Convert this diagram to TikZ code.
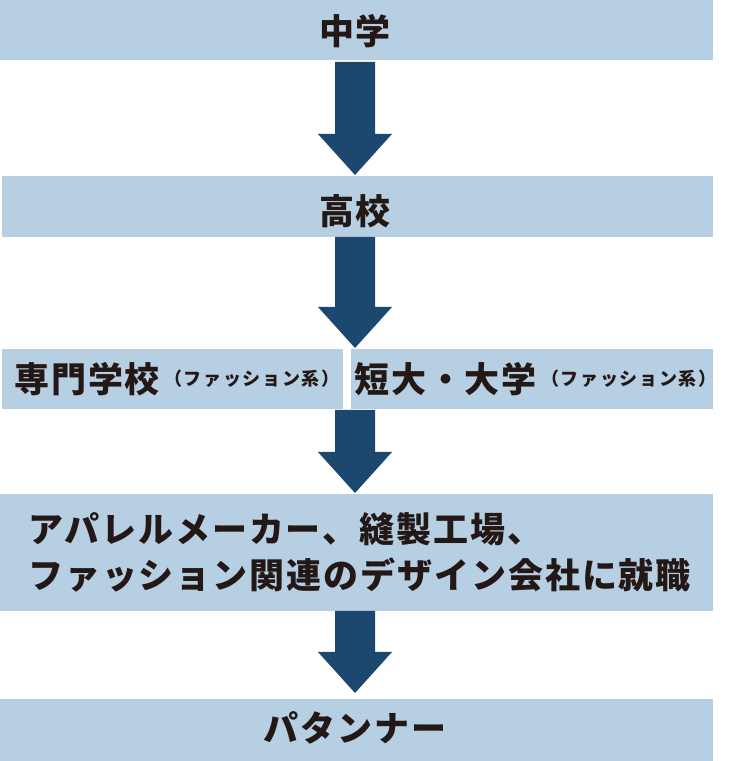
\documentclass[tikz,border=0pt]{standalone}
\usepackage{fontspec}
\newfontfamily\jp{Noto Sans CJK JP}[LetterSpace=5.5]
\newfontfamily\jpsm{Noto Sans CJK JP}[LetterSpace=9]
\usetikzlibrary{calc}
\definecolor{boxcol}{HTML}{B7CFE3}
\definecolor{arrowcol}{HTML}{1C4870}
\definecolor{txtcol}{HTML}{231815}
\newcommand\flowarrow[2]{%
  \fill[arrowcol] let \p1=(#1), \p2=(#2) in
    (\x1-20,\y1) -- (\x1+20,\y1) -- (\x1+20,\y2+41) -- (\x1+37,\y2+41)
    -- (\x1,\y2) -- (\x1-37,\y2+41) -- (\x1-20,\y2+41) -- cycle;}
\begin{document}
\begin{tikzpicture}[x=1pt,y=1pt,
  box/.style={fill=boxcol, draw=none, inner sep=0pt, outer sep=0pt, anchor=south west},
  lbl/.style={text=txtcol, font=\jp\bfseries\fontsize{35}{46}\selectfont, inner sep=0pt},
  smlbl/.style={text=txtcol, font=\jpsm\bfseries\fontsize{18}{20}\selectfont, inner sep=0pt}]
\useasboundingbox (0,0) rectangle (736,761);
\coordinate (mid) at (355,0);
% boxes
\node[box, minimum width=713pt, minimum height=60pt] (b1) at (0,701) {};
\node[box, minimum width=711pt, minimum height=61pt] (b2) at (2,524) {};
\node[box, minimum width=341pt, minimum height=60pt] (b3l) at (2,352) {};
\node[box, minimum width=362pt, minimum height=60pt] (b3r) at (351,352) {};
\node[box, minimum width=713pt, minimum height=117pt] (b4) at (0,150) {};
\node[box, minimum width=713pt, minimum height=62pt] (b5) at (0,0) {};
% texts
\node[lbl] (t1) at (355,730) {中学};
\node[lbl] (t2) at (355,550) {高校};
\node[lbl, anchor=west] (t3a) at (14,382) {専門学校};
\node[smlbl, anchor=west] (t3b) at ([xshift=4pt]t3a.east) {（ファッション系）};
\node[lbl, anchor=west] (t3c) at (354,382) {短大・大学};
\node[smlbl, anchor=west] (t3d) at ([xshift=4pt]t3c.east) {（ファッション系）};
\node[lbl, anchor=west] (t4a) at (28,232) {アパレルメーカー、縫製工場、};
\node[lbl, anchor=west] (t4b) at (28,186) {ファッション関連のデザイン会社に就職};
\node[lbl] (t5) at (355,33) {パタンナー};
% arrows
\coordinate (s1) at ($(b1.south -| mid)+(0,-2)$);
\coordinate (e1) at ($(b2.north -| mid)+(0,1)$);
\coordinate (s2) at (b2.south -| mid);
\coordinate (e2) at ($(b3l.north -| mid)+(0,1)$);
\coordinate (s3) at ($(b3l.south -| mid)+(0,-1)$);
\coordinate (e3) at ($(b4.north -| mid)+(0,1)$);
\coordinate (s4) at (b4.south -| mid);
\coordinate (e4) at ($(b5.north -| mid)+(0,6)$);
\flowarrow{s1}{e1}
\flowarrow{s2}{e2}
\flowarrow{s3}{e3}
\flowarrow{s4}{e4}
\end{tikzpicture}
\end{document}
